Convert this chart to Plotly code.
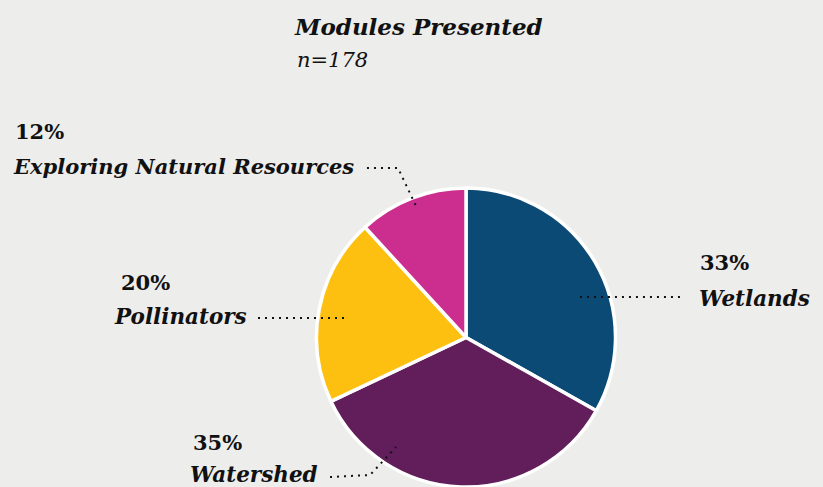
import plotly.graph_objects as go

# Module counts (n=178)
labels = ["Wetlands", "Watershed", "Pollinators", "Exploring Natural Resources"]
counts = [59, 62, 36, 21]
pct_text = ["33%", "35%", "20%", "12%"]
colors = ["#0B4A75", "#611E5A", "#FDC010", "#CB2E8F"]

W, H = 823, 487
FONT = "DejaVu Serif"
INK = "#111111"


def px(x):
    return x / W


def py(y):
    return 1 - y / H


fig = go.Figure()

fig.add_trace(go.Pie(
    labels=labels,
    values=counts,
    sort=False,
    direction="clockwise",
    rotation=0,
    marker=dict(colors=colors, line=dict(color="white", width=3.5)),
    textinfo="none",
    hoverinfo="label+percent",
    showlegend=False,
    domain=dict(x=[px(316), px(616)], y=[0, py(188)]),
))

# label blocks: (percent x, percent y, name x, name y)
label_pos = {
    "Wetlands": (698, 262, 697, 298),
    "Watershed": (191, 442, 188, 474),
    "Pollinators": (119, 282, 112, 316),
    "Exploring Natural Resources": (13, 131, 11, 166),
}

annotations = [
    dict(text="<b><i>Modules Presented</i></b>", x=px(292), y=py(26), xanchor="left",
         yanchor="middle", font=dict(size=23, family=FONT, color=INK)),
    dict(text="<i>n=178</i>", x=px(295), y=py(60), xanchor="left",
         yanchor="middle", font=dict(size=21, family=FONT, color=INK)),
]
for lab, pct in zip(labels, pct_text):
    x1, y1, x2, y2 = label_pos[lab]
    name_size = 21 if len(lab) > 20 else 21.5
    annotations.append(dict(text=f"<b>{pct}</b>", x=px(x1), y=py(y1), xanchor="left",
                            yanchor="middle", font=dict(size=21, family=FONT, color=INK)))
    annotations.append(dict(text=f"<b><i>{lab}</i></b>", x=px(x2), y=py(y2), xanchor="left",
                            yanchor="middle", font=dict(size=name_size, family=FONT, color=INK)))
for a in annotations:
    a.update(xref="paper", yref="paper", showarrow=False)

# dotted leader lines (pixel points)
leaders = [
    [(680, 297), (580, 297)],
    [(258, 318), (344, 318)],
    [(367, 168), (398, 168), (416, 206)],
    [(330, 477), (370, 475), (396, 447)],
]
shapes = []
for pts in leaders:
    path = "M " + " L ".join(f"{px(x):.4f},{py(y):.4f}" for x, y in pts)
    shapes.append(dict(type="path", path=path, xref="paper", yref="paper",
                       line=dict(color=INK, width=2, dash="2px,5px")))

fig.update_layout(
    width=W,
    height=H,
    margin=dict(l=0, r=0, t=0, b=0),
    paper_bgcolor="#EDEDEC",
    plot_bgcolor="#EDEDEC",
    annotations=annotations,
    shapes=shapes,
    font=dict(family=FONT, color=INK),
)

fig.write_html("out.html", config={"displayModeBar": False},
               post_script="document.body.style.margin='0';")
